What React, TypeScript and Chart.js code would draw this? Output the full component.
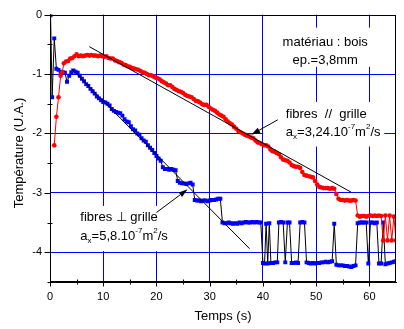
import React, { useEffect, useRef } from 'react';
import { Chart, registerables } from 'chart.js';
Chart.register(...registerables);

const FONT = "'Liberation Sans', Arial, sans-serif";

// ---- data ----
const redT = [0.8, 1.2, 1.6, 2.0, 2.3, 2.6, 3.0, 3.4, 3.8, 4.2, 4.6, 5.0, 5.4, 5.8, 6.2, 6.6, 7.0, 7.4, 7.8, 8.2, 8.6, 9.0, 9.4, 9.8, 10.2, 10.6, 11.0, 11.4, 11.8, 12.2, 12.6, 13.0, 13.4, 13.8, 14.2, 14.6, 15.0, 15.4, 15.8, 16.2, 16.6, 17.0, 17.4, 17.8, 18.2, 18.6, 19.0, 19.4, 19.8, 20.2, 20.6, 21.0, 21.4, 21.8, 22.2, 22.6, 23.0, 23.4, 23.8, 24.2, 24.6, 25.0, 25.4, 25.8, 26.2, 26.6, 27.0, 27.4, 27.8, 28.2, 28.6, 29.0, 29.4, 29.8, 30.2, 30.6, 31.0, 31.4, 31.8, 32.2, 32.6, 33.0, 33.4, 33.8, 34.2, 34.6, 35.0, 35.4, 35.8, 36.2, 36.6, 37.0, 37.4, 37.8, 38.2, 38.6, 39.0, 39.4, 39.8, 40.2, 40.6, 41.0, 41.4, 41.8, 42.2, 42.6, 43.0, 43.4, 43.8, 44.2, 44.6, 45.0, 45.4, 45.8, 46.2, 46.6, 47.0, 47.4, 47.8, 48.2, 48.6, 49.0, 49.4, 49.8, 50.2, 50.6, 51.0, 51.4, 51.8, 52.2, 52.6, 53.0, 53.4, 53.8, 54.2, 54.6, 55.0, 55.4, 55.8, 56.2, 56.6, 57.0, 57.4, 57.8, 58.2, 58.6, 59.0, 59.4, 59.8, 60.2, 60.6, 61.0, 61.4, 61.8, 62.2, 62.6, 63.0, 63.4, 63.8, 64.2, 64.6, 65.0];
const redV = [-2.2, -1.72, -1.39, -1.03, -0.97, -0.82, -0.79, -0.78, -0.74, -0.73, -0.70, -0.67, -0.70, -0.69, -0.70, -0.69, -0.68, -0.69, -0.68, -0.69, -0.69, -0.70, -0.69, -0.70, -0.71, -0.70, -0.73, -0.74, -0.74, -0.77, -0.78, -0.80, -0.81, -0.84, -0.85, -0.87, -0.88, -0.90, -0.91, -0.92, -0.93, -0.95, -0.97, -0.98, -1.00, -1.02, -1.02, -1.04, -1.06, -1.07, -1.09, -1.12, -1.14, -1.16, -1.19, -1.19, -1.22, -1.25, -1.27, -1.29, -1.30, -1.32, -1.35, -1.37, -1.38, -1.39, -1.42, -1.45, -1.46, -1.48, -1.51, -1.52, -1.52, -1.55, -1.58, -1.60, -1.62, -1.65, -1.68, -1.70, -1.72, -1.76, -1.80, -1.83, -1.85, -1.89, -1.92, -1.96, -1.98, -2.00, -2.02, -2.04, -2.05, -2.07, -2.08, -2.12, -2.15, -2.16, -2.18, -2.20, -2.20, -2.22, -2.27, -2.30, -2.31, -2.33, -2.35, -2.40, -2.44, -2.45, -2.46, -2.49, -2.53, -2.55, -2.56, -2.56, -2.58, -2.65, -2.70, -2.71, -2.72, -2.73, -2.74, -2.80, -2.86, -2.90, -2.91, -2.92, -2.92, -2.92, -2.93, -2.92, -2.93, -3.02, -3.10, -3.12, -3.12, -3.13, -3.12, -3.13, -3.13, -3.12, -3.13, -3.38, -3.40, -3.39, -3.39, -3.40, -3.39, -3.38, -3.39, -3.38, -3.39, -3.38, -3.39, -3.80, -3.38, -3.80, -3.38, -3.80, -3.40, -3.80];

const blueT = [0.1, 0.4, 0.8, 1.2, 1.6, 2.0, 2.4, 2.8, 3.2, 3.6, 4.0, 4.4, 4.8, 5.2, 5.6, 6.0, 6.4, 6.8, 7.2, 7.6, 8.0, 8.4, 8.8, 9.2, 9.6, 10.0, 10.4, 10.8, 11.2, 11.6, 12.0, 12.4, 12.8, 13.2, 13.6, 14.0, 14.4, 14.8, 15.2, 15.6, 16.0, 16.4, 16.8, 17.2, 17.6, 18.0, 18.4, 18.8, 19.2, 19.6, 20.0, 20.4, 20.8, 21.2, 21.6, 22.0, 22.4, 22.8, 23.2, 23.6, 24.0, 24.4, 24.8, 25.2, 25.6, 26.0, 26.4, 26.8, 27.2, 27.6, 28.0, 28.4, 28.8, 29.2, 29.6, 30.0, 30.4, 30.8, 31.2, 31.6, 32.0, 32.4, 32.8, 33.2, 33.6, 34.0, 34.4, 34.8, 35.2, 35.6, 36.0, 36.4, 36.8, 37.2, 37.6, 38.0, 38.4, 38.8, 39.2, 39.6, 40.0, 40.3, 40.6, 40.9, 41.2, 41.5, 41.9, 42.3, 42.7, 43.0, 43.4, 43.8, 44.2, 44.6, 45.0, 45.4, 45.8, 46.2, 46.6, 47.0, 47.4, 47.8, 48.2, 48.6, 49.0, 49.4, 49.8, 50.2, 50.6, 51.0, 51.4, 51.8, 52.2, 52.6, 53.0, 53.4, 53.8, 54.2, 54.6, 55.0, 55.4, 55.8, 56.2, 56.6, 57.0, 57.4, 57.8, 58.2, 58.6, 59.0, 59.4, 59.8, 60.2, 60.6, 61.0, 61.4, 61.8, 62.2, 62.6, 63.0, 63.4, 63.8, 64.2, 64.6, 65.0];
const blueV = [-0.01, -1.39, -0.40, -0.91, -0.93, -0.96, -0.97, -0.98, -1.13, -1.03, -0.97, -0.94, -0.96, -0.98, -1.03, -1.08, -1.12, -1.17, -1.20, -1.25, -1.29, -1.33, -1.38, -1.41, -1.44, -1.47, -1.48, -1.50, -1.53, -1.59, -1.62, -1.64, -1.65, -1.66, -1.70, -1.76, -1.80, -1.81, -1.88, -1.93, -1.95, -2.00, -2.02, -2.08, -2.12, -2.14, -2.20, -2.24, -2.28, -2.33, -2.38, -2.42, -2.46, -2.57, -2.60, -2.60, -2.61, -2.60, -2.61, -2.62, -2.80, -2.83, -2.84, -2.84, -2.85, -2.84, -2.83, -2.86, -3.12, -3.13, -3.13, -3.14, -3.13, -3.13, -3.14, -3.13, -3.12, -3.12, -3.11, -3.10, -3.10, -3.50, -3.51, -3.51, -3.50, -3.51, -3.52, -3.51, -3.52, -3.50, -3.51, -3.50, -3.49, -3.50, -3.50, -3.49, -3.50, -3.49, -3.50, -3.50, -4.18, -4.19, -3.52, -4.19, -3.51, -4.18, -4.18, -4.17, -4.17, -3.50, -3.49, -3.50, -4.17, -3.50, -3.50, -4.18, -4.18, -4.17, -4.18, -3.50, -3.49, -3.50, -4.17, -4.18, -4.19, -4.18, -4.19, -4.18, -4.18, -4.17, -4.17, -4.16, -4.17, -4.16, -4.15, -3.52, -4.21, -4.22, -4.22, -4.22, -4.23, -4.23, -4.24, -4.25, -4.23, -4.22, -3.51, -3.50, -3.50, -3.50, -3.50, -4.19, -3.50, -3.50, -3.51, -3.50, -4.19, -4.19, -3.50, -4.20, -4.19, -4.18, -4.17, -4.16, -4.15];

const redFitT = [7.4, 56.6];
const redFitV = [-0.54, -2.99];
const blueFitT = [4.0, 37.5];
const blueFitV = [-0.91, -3.94];

const xTitle = 'Temps (s)';
const yTitle = 'Température (U.A.)';

// annotation layout (data coordinates)
const boxes = [
  { x0: 43.7, x1: 60.6, y0: -0.22, y1: -0.88 },
  { x0: 40.05, x1: 62.8, y0: -1.47, y1: -2.22 },
  { x0: 4.6, x1: 23.1, y0: -3.22, y1: -3.98 },
];
const arrows = [
  { from: [42.8, -1.77], to: [37.8, -2.02] },
  { from: [20.0, -3.33], to: [25.85, -2.94] },
];

type Part = { t: string; sub?: boolean; sup?: boolean };
const labels: { x: number; y: number; align: 'left' | 'center'; parts: Part[] }[] = [
  { x: 51.7, y: -0.467, align: 'center', parts: [{ t: 'matériau : bois' }] },
  { x: 51.7, y: -0.775, align: 'center', parts: [{ t: 'ep.=3,8mm' }] },
  { x: 44.3, y: -1.675, align: 'left', parts: [{ t: 'fibres  //  grille' }] },
  { x: 44.3, y: -1.98, align: 'left', parts: [{ t: 'a' }, { t: 'x', sub: true }, { t: '=3,24.10' }, { t: '-7', sup: true }, { t: 'm' }, { t: '2', sup: true }, { t: '/s' }] },
  { x: 5.7, y: -3.41, align: 'left', parts: [{ t: 'fibres ⊥ grille' }] },
  { x: 5.7, y: -3.73, align: 'left', parts: [{ t: 'a' }, { t: 'x', sub: true }, { t: '=5,8.10' }, { t: '-7', sup: true }, { t: 'm' }, { t: '2', sup: true }, { t: '/s' }] },
];

const BASE = 13;
const SMALL = 8;

function drawParts(ctx: CanvasRenderingContext2D, x: number, y: number, align: string, parts: Part[]) {
  const widths = parts.map((p) => {
    ctx.font = `${p.sub || p.sup ? SMALL : BASE}px ${FONT}`;
    return ctx.measureText(p.t).width;
  });
  const total = widths.reduce((a, b) => a + b, 0);
  let cx = align === 'center' ? x - total / 2 : x;
  ctx.textAlign = 'left';
  ctx.textBaseline = 'middle';
  ctx.fillStyle = '#000';
  parts.forEach((p, i) => {
    ctx.font = `${p.sub || p.sup ? SMALL : BASE}px ${FONT}`;
    const dy = p.sub ? 5 : p.sup ? -5 : 0;
    ctx.fillText(p.t, cx, y + dy);
    cx += widths[i];
  });
}

const overlay = {
  id: 'overlay',
  beforeDatasetsDraw(chart: any) {
    const { ctx, scales } = chart;
    const xs = scales.x, ys = scales.y;
    ctx.save();
    ctx.fillStyle = '#ffffff';
    boxes.forEach((b) => {
      const x0 = xs.getPixelForValue(b.x0), x1 = xs.getPixelForValue(b.x1);
      const y0 = ys.getPixelForValue(b.y0), y1 = ys.getPixelForValue(b.y1);
      ctx.fillRect(x0, y0, x1 - x0, y1 - y0);
    });
    ctx.restore();
  },
  afterDatasetsDraw(chart: any) {
    const { ctx, scales, chartArea } = chart;
    const xs = scales.x, ys = scales.y;
    ctx.save();
    // frame
    ctx.strokeStyle = '#000';
    ctx.lineWidth = 1;
    const L = Math.round(chartArea.left) + 0.5, R = Math.round(chartArea.right) - 0.5;
    const T = Math.round(chartArea.top) + 0.5, B = Math.round(chartArea.bottom) - 0.5;
    ctx.strokeRect(L, T, R - L, B - T);
    // tick marks
    ctx.beginPath();
    xs.ticks.forEach((t: any) => {
      if (t.value >= 65) return;
      const px = Math.round(xs.getPixelForValue(t.value)) + 0.5;
      const major = t.value % 10 === 0;
      ctx.moveTo(px, B - (major ? 0 : 2));
      ctx.lineTo(px, B + (major ? 5 : 3));
    });
    ys.ticks.forEach((t: any) => {
      const py = Math.round(ys.getPixelForValue(t.value)) + 0.5;
      const major = Number.isInteger(t.value);
      ctx.moveTo(L + (major ? 0 : 2), py);
      ctx.lineTo(L - (major ? 6 : 3), py);
    });
    ctx.stroke();
    // arrows
    arrows.forEach((a) => {
      const x0 = xs.getPixelForValue(a.from[0]), y0 = ys.getPixelForValue(a.from[1]);
      const x1 = xs.getPixelForValue(a.to[0]), y1 = ys.getPixelForValue(a.to[1]);
      const ang = Math.atan2(y1 - y0, x1 - x0);
      const hl = 9, hw = 2.8;
      const bx = x1 - hl * Math.cos(ang), by = y1 - hl * Math.sin(ang);
      ctx.beginPath();
      ctx.moveTo(x0, y0);
      ctx.lineTo(bx, by);
      ctx.stroke();
      ctx.beginPath();
      ctx.moveTo(x1, y1);
      ctx.lineTo(bx + hw * Math.sin(ang), by - hw * Math.cos(ang));
      ctx.lineTo(bx - hw * Math.sin(ang), by + hw * Math.cos(ang));
      ctx.closePath();
      ctx.fillStyle = '#000';
      ctx.fill();
    });
    // labels
    labels.forEach((l) => {
      drawParts(ctx, xs.getPixelForValue(l.x), ys.getPixelForValue(l.y), l.align, l.parts);
    });
    // axis titles
    ctx.fillStyle = '#000';
    ctx.font = `13px ${FONT}`;
    ctx.textAlign = 'center';
    ctx.textBaseline = 'middle';
    ctx.fillText(xTitle, (chartArea.left + chartArea.right) / 2, 316);
    ctx.translate(19, 153);
    ctx.rotate(-Math.PI / 2);
    ctx.fillText(yTitle, 0, 0);
    ctx.restore();
  },
};

function pts(t: number[], v: number[]) {
  return t.map((x, i) => ({ x, y: v[i] }));
}

export default function App() {
  const ref = useRef<HTMLCanvasElement>(null);
  useEffect(() => {
    const canvas = ref.current!;
    const chart = new Chart(canvas, {
      type: 'scatter',
      data: {
        datasets: [
          { data: pts(redFitT, redFitV), showLine: true, borderColor: '#000', borderWidth: 1, pointRadius: 0 },
          { data: pts(blueFitT, blueFitV), showLine: true, borderColor: '#000', borderWidth: 1, pointRadius: 0 },
          { data: pts(redT, redV), showLine: true, borderColor: '#ff0000', borderWidth: 1, pointRadius: 2.3, pointBackgroundColor: '#ff0000', pointBorderWidth: 0, pointStyle: 'circle' },
          { data: pts(blueT, blueV), showLine: true, borderColor: '#000', borderWidth: 1, pointRadius: 2.8, pointBackgroundColor: '#0000ff', pointBorderWidth: 0, pointStyle: 'rect' },
        ],
      } as any,
      options: {
        animation: false,
        responsive: false,
        devicePixelRatio: 1,
        layout: { padding: { top: 12, right: 1, left: 0, bottom: 0 } },
        plugins: { legend: { display: false }, tooltip: { enabled: false } },
        scales: {
          x: {
            type: 'linear', min: 0, max: 65,
            afterFit: (s: any) => { s.height = 47; },
            ticks: {
              stepSize: 5, autoSkip: false, maxRotation: 0, padding: 8, color: '#000',
              font: { family: FONT, size: 11 },
              callback: (v: any) => (v % 10 === 0 ? String(v) : ''),
            },
            grid: {
              drawTicks: false, lineWidth: 1,
              color: (c: any) => (c.tick && c.tick.value !== 0 && c.tick.value % 10 === 0 ? '#0000ff' : 'rgba(0,0,0,0)'),
            },
            border: { display: true, color: '#000', width: 1 },
          },
          y: {
            type: 'linear', min: -4.5, max: 0,
            afterFit: (s: any) => { s.width = 50; },
            ticks: {
              stepSize: 0.5, autoSkip: false, padding: 8, color: '#000',
              font: { family: FONT, size: 11 },
              callback: (v: any) => (Number.isInteger(v) ? String(v) : ''),
            },
            grid: {
              drawTicks: false, lineWidth: 1,
              color: (c: any) => (c.tick && c.tick.value !== 0 && Number.isInteger(c.tick.value) ? '#0000ff' : 'rgba(0,0,0,0)'),
            },
            border: { display: true, color: '#000', width: 1 },
          },
        },
      } as any,
      plugins: [overlay],
    });
    return () => chart.destroy();
  }, []);
  return (
    <div style={{ position: 'absolute', left: 0, top: 0, width: 404, height: 329, background: '#fff' }}>
      <canvas ref={ref} width={404} height={329} style={{ width: 404, height: 329, display: 'block' }} />
    </div>
  );
}
